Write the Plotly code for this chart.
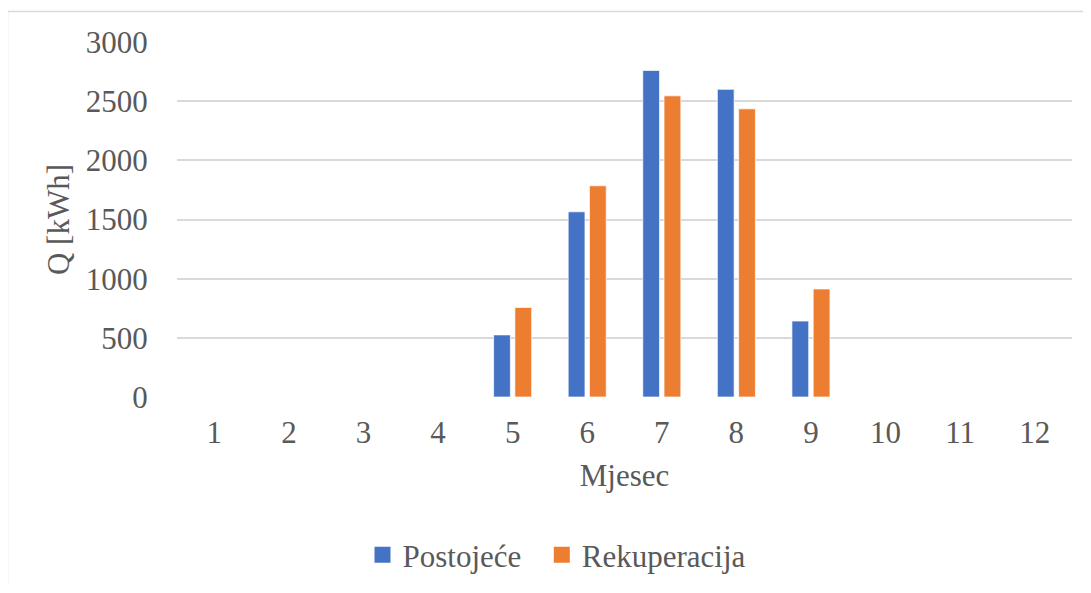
import plotly.graph_objects as go

months = ["1", "2", "3", "4", "5", "6", "7", "8", "9", "10", "11", "12"]
postojece = [0, 0, 0, 0, 525, 1565, 2760, 2600, 642, 0, 0, 0]
rekuperacija = [0, 0, 0, 0, 757, 1785, 2545, 2435, 913, 0, 0, 0]
series_names = ["Postojeće", "Rekuperacija"]
colors = ["#4472C4", "#ED7D31"]
y_ticks = [0, 500, 1000, 1500, 2000, 2500, 3000]

# page has an 8px body margin; work in page pixels and shift
OFF = 8
W, H = 1091 - 2 * OFF, 593 - 2 * OFF
ML = 177 - OFF
MT = 42 - OFF
MR = W - (1072 - OFF)
MB = H - (397 - OFF)
FONT = "Liberation Serif"
FS = 31
TXT = "#595959"
GRID = "#D9D9D9"
PAD = "\u00a0\u00a0"  # extra spacing after a legend entry

fig = go.Figure()
for i, (name, vals, col) in enumerate(zip(series_names, [postojece, rekuperacija], colors)):
    fig.add_trace(go.Bar(
        x=months, y=vals, name=name, showlegend=False,
        marker=dict(color=col, line=dict(color="rgba(255,255,255,0.7)", width=1)),
    ))
    # legend entry with a larger square symbol
    fig.add_trace(go.Scatter(
        x=[None], y=[None], mode="markers",
        name=name + (PAD if i < len(series_names) - 1 else ""),
        marker=dict(symbol="square", size=16, color=col),
    ))

pw = W - ML - MR
ph = H - MT - MB
def px_x(p):
    return (p - OFF - ML) / pw
def px_y(p):
    return (H - MB - (p - OFF)) / ph

fig.update_layout(
    width=W, height=H,
    margin=dict(l=ML, r=MR, t=MT, b=MB, pad=0),
    paper_bgcolor="white", plot_bgcolor="white",
    font=dict(family=FONT, size=FS, color=TXT),
    barmode="group", bargap=0.43, bargroupgap=0.21,
    showlegend=True,
    legend=dict(
        orientation="h", xref="container", yref="container",
        x=(557 - OFF) / W, y=1 - (555 - OFF) / H, xanchor="center", yanchor="middle",
        font=dict(family=FONT, size=FS, color=TXT),
        itemwidth=30, traceorder="normal",
    ),
    xaxis=dict(
        type="category", showgrid=False, showline=False, zeroline=False,
        ticks="outside", ticklen=8, tickcolor="rgba(0,0,0,0)",
        tickfont=dict(family=FONT, size=FS, color=TXT),
        title=dict(text="Mjesec", font=dict(family=FONT, size=FS, color=TXT), standoff=15),
    ),
    yaxis=dict(
        range=[0, 3000], tickvals=y_ticks, showgrid=True, gridcolor=GRID, gridwidth=1.5,
        zeroline=False, showline=False,
        ticks="outside", ticklen=22, tickcolor="rgba(0,0,0,0)",
        tickfont=dict(family=FONT, size=FS, color=TXT),
        title=dict(text="Q [kWh]", font=dict(family=FONT, size=FS, color=TXT), standoff=6),
    ),
    shapes=[
        dict(type="rect", xref="paper", yref="paper",
             x0=px_x(7.5), x1=px_x(1111), y0=px_y(640), y1=px_y(11.5),
             line=dict(color=GRID, width=1.5), fillcolor="rgba(0,0,0,0)", layer="below"),
    ],
)

fig.write_html("out.html")
